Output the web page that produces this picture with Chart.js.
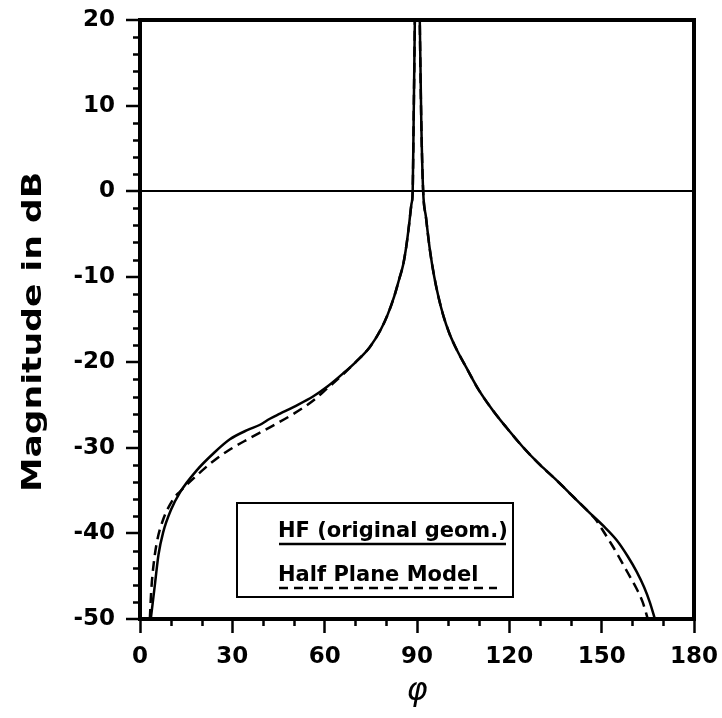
<!DOCTYPE html>
<html>
<head>
<meta charset="utf-8">
<script src="https://cdn.jsdelivr.net/npm/chart.js@4.4.1/dist/chart.umd.min.js"></script>
<style>
  html, body { margin: 0; background: #fff; }
  #wrap { width: 722px; height: 718px; }
</style>
</head>
<body>
<div id="wrap"><canvas id="c"></canvas></div>
<script>
  // HF (original geometry) - solid
  const phiHF = [3.5, 4.9, 6, 7.5, 10, 13, 18.5, 24, 29.2, 35, 39, 42.2, 45.5, 50, 56.2, 61, 66, 70, 74.7, 78.2, 80.5, 82.6, 84.2, 85.5, 86.5, 87.4, 88.2,
    88.6, 88.9, 89.3, 89.7, 90.1, 90.5, 90.9, 91.4, 92.0, 92.9, 94.2, 95.6, 97.0, 98.6, 100.5, 103, 106, 110, 114.6, 119, 124.4,
    130, 135.4, 141, 146.1, 150.5, 154.9, 158.5, 161.4, 163.8, 165.6, 167.3];
  const dbHF = [-50, -45.8, -42.5, -39.9, -37.3, -35.2, -32.6, -30.6, -29.0, -27.9, -27.3, -26.6, -26.0, -25.2, -24.0, -22.8, -21.3, -20.0, -18.2, -16.2, -14.4, -12.3, -10.3, -8.6, -6.5, -4.0, -1.5,
    0, 8, 20, 35, 40, 35, 20, 8, 0, -3, -6.9, -10, -12.4, -14.6, -16.6, -18.6, -20.6, -23.2, -25.6, -27.6, -29.9,
    -32, -33.8, -35.8, -37.6, -39.1, -40.8, -42.7, -44.5, -46.3, -48, -50];

  // Half plane model - dashed
  const phiHP = [3.2, 3.6, 4.3, 5.5, 7.5, 10.8, 13, 18.5, 24, 29.2, 35, 42.2, 50, 56.2, 61, 66, 70, 74.7, 78.2, 80.5, 82.6, 84.2, 85.5, 86.5, 87.4, 88.2,
    88.6, 88.9, 89.3, 89.7, 90.1, 90.5, 90.9, 91.4, 92.0, 92.9, 94.2, 95.6, 97.0, 98.6, 100.5, 103, 106, 110, 114.6, 119, 124.4,
    130, 135.4, 141, 146.1, 148.3, 150.3, 153.6, 156, 159.1, 161.4, 163.3, 165];
  const dbHP = [-50, -47, -44, -41, -38.4, -36, -35.1, -33.2, -31.5, -30.2, -29, -27.6, -26.0, -24.5, -23, -21.4, -20.0, -18.2, -16.2, -14.4, -12.3, -10.3, -8.6, -6.5, -4.0, -1.5,
    0, 8, 20, 35, 40, 35, 20, 8, 0, -3, -6.9, -10, -12.4, -14.6, -16.6, -18.6, -20.6, -23.2, -25.6, -27.6, -29.9,
    -32, -33.8, -35.8, -37.6, -38.5, -39.6, -41.5, -43, -45, -46.5, -48, -50];

  const legendLabels = ["HF (original geom.)", "Half Plane Model"];
  const yTitle = "Magnitude in dB";
  const xTitle = "\u03c6";

  function toPoints(xs, ys) {
    return xs.map(function(x, i) { return { x: x, y: ys[i] }; });
  }

  const tickFont = { family: "DejaVu Sans", size: 23, weight: "bold" };

  // frame, minor ticks, legend box and axis titles
  const decorations = {
    id: "decorations",
    afterDraw: function(chart) {
      const ctx = chart.ctx;
      const a = chart.chartArea;
      const xs = chart.scales.x, ys = chart.scales.y;
      ctx.save();
      ctx.strokeStyle = "#000";
      ctx.lineWidth = 2.5;
      ctx.beginPath();
      for (let v = -50; v <= 20; v += 2) {
        if (v % 10 === 0) continue;
        const py = Math.round(ys.getPixelForValue(v)) + 0.5;
        ctx.moveTo(a.left - 7, py); ctx.lineTo(a.left, py);
      }
      for (let v = 0; v <= 180; v += 10) {
        if (v % 30 === 0) continue;
        const px = Math.round(xs.getPixelForValue(v)) + 0.5;
        ctx.moveTo(px, a.bottom); ctx.lineTo(px, a.bottom + 7);
      }
      ctx.stroke();

      ctx.lineWidth = 4;
      ctx.strokeRect(a.left, a.top, a.right - a.left, a.bottom - a.top);

      // legend
      ctx.lineWidth = 2;
      ctx.strokeRect(237, 503, 276, 94);
      ctx.fillStyle = "#000";
      ctx.font = "bold 21px 'DejaVu Sans'";
      ctx.textAlign = "left";
      ctx.textBaseline = "alphabetic";
      ctx.fillText(legendLabels[0], 278, 537);
      ctx.fillText(legendLabels[1], 278, 581);
      ctx.lineWidth = 2.5;
      ctx.beginPath(); ctx.moveTo(279, 544); ctx.lineTo(506, 544); ctx.stroke();
      ctx.setLineDash([9, 6]);
      ctx.beginPath(); ctx.moveTo(279, 588); ctx.lineTo(497, 588); ctx.stroke();
      ctx.setLineDash([]);

      // y title
      ctx.save();
      ctx.translate(34, 332);
      ctx.rotate(-Math.PI / 2);
      ctx.scale(1.33, 1);
      ctx.font = "bold 26px 'DejaVu Sans'";
      ctx.textAlign = "center";
      ctx.textBaseline = "middle";
      ctx.fillText(yTitle, 0, 0);
      ctx.restore();

      // x title
      ctx.font = "italic 32px 'DejaVu Sans'";
      ctx.textAlign = "center";
      ctx.textBaseline = "middle";
      ctx.fillText(xTitle, xs.getPixelForValue(90), 692);
      ctx.restore();
    }
  };

  new Chart(document.getElementById("c"), {
    type: "line",
    data: {
      datasets: [
        {
          label: legendLabels[0],
          data: toPoints(phiHF, dbHF),
          borderColor: "#000", borderWidth: 2.5,
          pointRadius: 0, cubicInterpolationMode: "monotone", fill: false
        },
        {
          label: legendLabels[1],
          data: toPoints(phiHP, dbHP),
          borderColor: "#000", borderWidth: 2.5, borderDash: [10, 6],
          pointRadius: 0, cubicInterpolationMode: "monotone", fill: false
        }
      ]
    },
    options: {
      responsive: true, maintainAspectRatio: false, animation: false, devicePixelRatio: 1,
      layout: { padding: { left: 0, right: 28, top: 20, bottom: 0 } },
      plugins: { legend: { display: false }, tooltip: { enabled: false } },
      scales: {
        x: {
          type: "linear", min: 0, max: 180,
          ticks: { stepSize: 30, color: "#000", font: tickFont, padding: 10, maxRotation: 0, autoSkip: false },
          grid: { drawOnChartArea: false, tickLength: 14, tickWidth: 2.5, tickColor: "#000" },
          border: { display: true, width: 4, color: "#000" },
          afterFit: function(s) { s.height = 99; s.paddingLeft = 0; s.paddingRight = 0; }
        },
        y: {
          min: -50, max: 20,
          ticks: { stepSize: 10, color: "#000", font: tickFont, padding: 11 },
          grid: {
            color: function(c) { return c.tick && c.tick.value === 0 ? "#000" : "rgba(0,0,0,0)"; },
            lineWidth: 2, tickLength: 14, tickWidth: 2.5, tickColor: "#000"
          },
          border: { display: true, width: 4, color: "#000" },
          afterFit: function(s) { s.width = 140; s.paddingTop = 0; s.paddingBottom = 0; }
        }
      }
    },
    plugins: [decorations]
  });
</script>
</body>
</html>
